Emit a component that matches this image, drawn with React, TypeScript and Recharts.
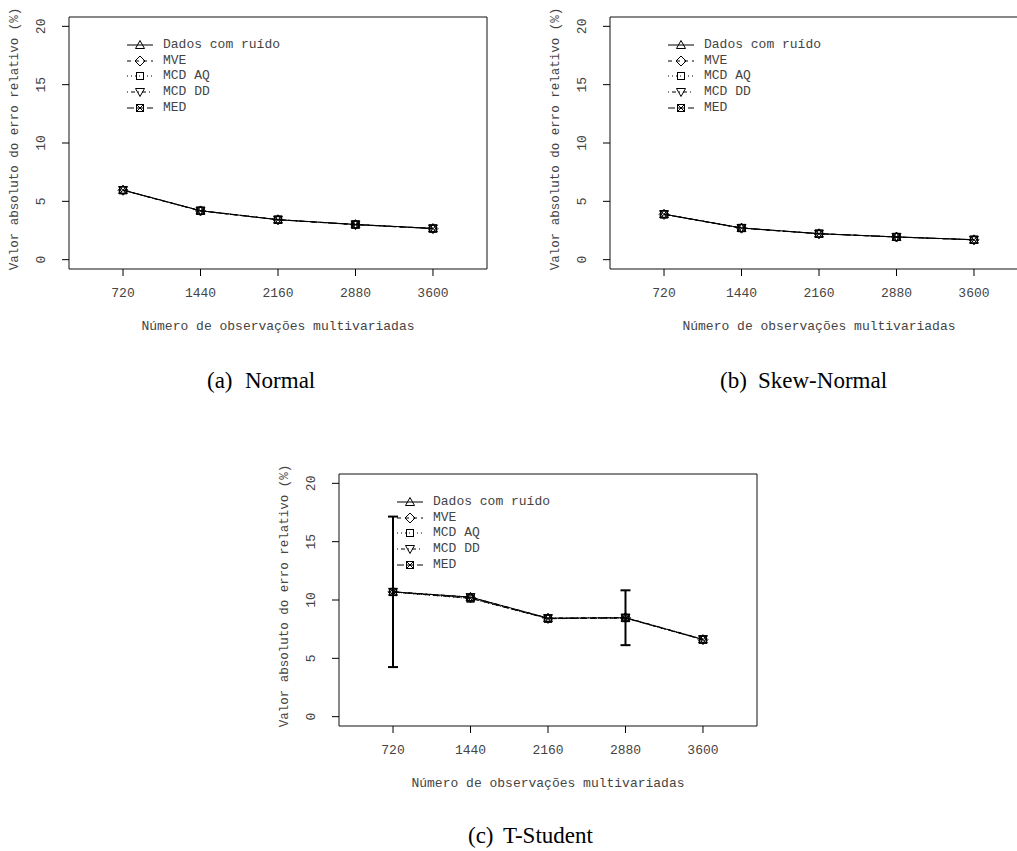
import { LineChart, Line, XAxis, YAxis, ReferenceArea, ErrorBar, Legend, Label } from "recharts";

// number of multivariate observations (x)
const sizes = [720, 1440, 2160, 2880, 3600];
const xTicks = [720, 1440, 2160, 2880, 3600];
const yTicks = [0, 5, 10, 15, 20];

// (a) Normal
const normalNoisy = [5.97, 4.2, 3.43, 3.02, 2.68];
const normalMve = [5.95, 4.18, 3.42, 3.0, 2.66];
const normalAq = [5.96, 4.2, 3.43, 3.02, 2.68];
const normalDd = [5.97, 4.2, 3.43, 3.02, 2.68];
const normalMed = [5.95, 4.18, 3.42, 3.0, 2.66];

// (b) Skew-Normal
const skewNoisy = [3.9, 2.72, 2.23, 1.95, 1.71];
const skewMve = [3.88, 2.7, 2.22, 1.94, 1.7];
const skewAq = [3.9, 2.72, 2.23, 1.95, 1.71];
const skewDd = [3.9, 2.72, 2.23, 1.95, 1.71];
const skewMed = [3.88, 2.7, 2.22, 1.94, 1.7];

// (c) T-Student
const tNoisy = [10.7, 10.25, 8.45, 8.48, 6.62];
const tMve = [10.7, 10.2, 8.42, 8.48, 6.6];
const tAq = [10.68, 10.12, 8.4, 8.45, 6.6];
const tDd = [10.7, 10.25, 8.45, 8.5, 6.65];
const tMed = [10.68, 10.15, 8.4, 8.45, 6.6];
const tErr = [6.45, null, null, 2.35, null];

const X_DOMAIN = [218, 4102];
const Y_DOMAIN = [-0.8, 20.8];
const MONO = "'Liberation Mono', 'DejaVu Sans Mono', monospace";
const SERIF = "'Liberation Serif', 'DejaVu Serif', serif";
const TEXT = "#444";

const series = [
  { key: "noisy", name: "Dados com ruído", dash: undefined, shape: "up" },
  { key: "mve", name: "MVE", dash: "4 4", shape: "diamond" },
  { key: "aq", name: "MCD AQ", dash: "1 3", shape: "square" },
  { key: "dd", name: "MCD DD", dash: "1 3 4 3", shape: "down" },
  { key: "med", name: "MED", dash: "7 3", shape: "boxx" },
];

function buildRows(noisy, mve, aq, dd, med, err?) {
  return sizes.map((n, i) => ({
    n,
    noisy: noisy[i],
    mve: mve[i],
    aq: aq[i],
    dd: dd[i],
    med: med[i],
    err: err ? err[i] : null,
  }));
}

function marker(shape, cx, cy) {
  const s = { fill: "none", stroke: "#000", strokeWidth: 1 };
  switch (shape) {
    case "up":
      return <polygon points={`${cx},${cy - 4.5} ${cx - 4.5},${cy + 3.5} ${cx + 4.5},${cy + 3.5}`} {...s} />;
    case "diamond":
      return <polygon points={`${cx},${cy - 5} ${cx + 5},${cy} ${cx},${cy + 5} ${cx - 5},${cy}`} {...s} />;
    case "square":
      return <rect x={cx - 3.5} y={cy - 3.5} width={7} height={7} {...s} />;
    case "down":
      return <polygon points={`${cx},${cy + 4.5} ${cx - 4.5},${cy - 3.5} ${cx + 4.5},${cy - 3.5}`} {...s} />;
    default:
      return (
        <g {...s}>
          <rect x={cx - 3.5} y={cy - 3.5} width={7} height={7} />
          <line x1={cx - 3.5} y1={cy - 3.5} x2={cx + 3.5} y2={cy + 3.5} />
          <line x1={cx + 3.5} y1={cy - 3.5} x2={cx - 3.5} y2={cy + 3.5} />
        </g>
      );
  }
}

function LegendBox() {
  return (
    <div style={{ fontFamily: MONO, fontSize: 13, color: TEXT }}>
      {series.map((s) => (
        <div key={s.key} style={{ display: "flex", alignItems: "center", height: 15.75 }}>
          <svg width={26} height={16} style={{ display: "block" }}>
            <line x1={0} x2={26} y1={8} y2={8} stroke="#000" strokeDasharray={s.dash} />
            {marker(s.shape, 13, 8)}
          </svg>
          <span style={{ marginLeft: 10, lineHeight: "16px", whiteSpace: "pre" }}>{s.name}</span>
        </div>
      ))}
    </div>
  );
}

const XTick = ({ x, y, payload }) => (
  <text x={x} y={y} dy="0.71em" textAnchor="middle" fontFamily={MONO} fontSize={13} fill={TEXT}>
    {payload.value}
  </text>
);

const YTick = ({ y, payload }) => (
  <text
    transform={`translate(40,${y}) rotate(-90)`}
    dy="0.35em"
    textAnchor="middle"
    fontFamily={MONO}
    fontSize={13}
    fill={TEXT}
  >
    {payload.value}
  </text>
);

function Panel({ left, top, width, rows, withErr }) {
  return (
    <div style={{ position: "absolute", left, top }}>
      <LineChart
        width={width}
        height={340}
        data={rows}
        margin={{ top: 17, right: width - 69 - 418, bottom: 0, left: 0 }}
      >
        <XAxis
          type="number"
          dataKey="n"
          domain={X_DOMAIN}
          ticks={xTicks}
          axisLine={false}
          tickLine={{ stroke: "#000" }}
          tickSize={7}
          tickMargin={12}
          height={71}
          tick={XTick}
          label={
            <Label
              content={({ viewBox }) => (
                <text
                  x={viewBox.x + viewBox.width / 2}
                  y={viewBox.y + 56}
                  dy="0.35em"
                  textAnchor="middle"
                  fontFamily={MONO}
                  fontSize={13}
                  fill={TEXT}
                >
                  Número de observações multivariadas
                </text>
              )}
            />
          }
        />
        <YAxis
          type="number"
          domain={Y_DOMAIN}
          ticks={yTicks}
          axisLine={false}
          tickLine={{ stroke: "#000" }}
          tickSize={7}
          width={69}
          tick={YTick}
          label={
            <Label
              content={({ viewBox }) => (
                <text
                  transform={`translate(${viewBox.x + 14},${viewBox.y + viewBox.height / 2 - 4}) rotate(-90)`}
                  dy="0.35em"
                  textAnchor="middle"
                  fontFamily={MONO}
                  fontSize={12.5}
                  fill={TEXT}
                >
                  Valor absoluto do erro relativo (%)
                </text>
              )}
            />
          }
        />
        <ReferenceArea
          x1={X_DOMAIN[0]}
          x2={X_DOMAIN[1]}
          y1={Y_DOMAIN[0]}
          y2={Y_DOMAIN[1]}
          fill="none"
          stroke="#111"
          strokeWidth={1}
          fillOpacity={0}
        />
        {series.map((s, si) => (
          <Line
            key={s.key}
            dataKey={s.key}
            name={s.name}
            stroke="#000"
            strokeWidth={1}
            strokeDasharray={s.dash}
            isAnimationActive={false}
            activeDot={false}
            dot={(p) => <g key={`${s.key}-${p.index}`}>{marker(s.shape, p.cx, p.cy)}</g>}
          >
            {withErr && si === 0 ? (
              <ErrorBar dataKey="err" direction="y" width={5} strokeWidth={2} stroke="#000" />
            ) : null}
          </Line>
        ))}
        <Legend
          content={() => <LegendBox />}
          align="center"
          verticalAlign="middle"
          wrapperStyle={{ left: 127, top: 37, width: "auto", height: "auto" }}
        />
      </LineChart>
    </div>
  );
}

export default function App() {
  const captionStyle = { fontFamily: SERIF, fontSize: 23, fill: "#000" };
  return (
    <div
      style={{
        position: "absolute",
        left: 0,
        top: 0,
        width: 1017,
        height: 851,
        overflow: "hidden",
        background: "#fff",
      }}
    >
      <Panel left={0} top={0} width={500} rows={buildRows(normalNoisy, normalMve, normalAq, normalDd, normalMed)} withErr={false} />
      <Panel left={541} top={0} width={487} rows={buildRows(skewNoisy, skewMve, skewAq, skewDd, skewMed)} withErr={false} />
      <Panel left={270} top={457} width={500} rows={buildRows(tNoisy, tMve, tAq, tDd, tMed, tErr)} withErr={true} />
      <svg width={1017} height={851} style={{ position: "absolute", left: 0, top: 0, pointerEvents: "none" }}>
        <text x={207} y={388} {...captionStyle}>(a)</text>
        <text x={245} y={388} {...captionStyle}>Normal</text>
        <text x={720} y={388} {...captionStyle}>(b)</text>
        <text x={758} y={388} {...captionStyle}>Skew-Normal</text>
        <text x={468} y={843} {...captionStyle}>(c)</text>
        <text x={503} y={843} {...captionStyle}>T-Student</text>
      </svg>
    </div>
  );
}
